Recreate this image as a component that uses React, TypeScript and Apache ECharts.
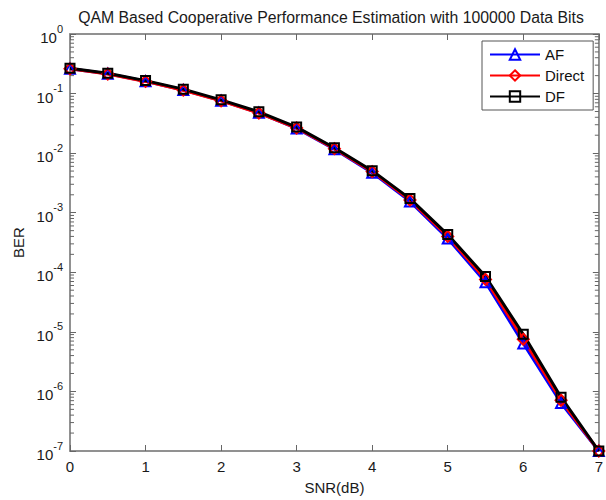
import React, { useEffect, useRef } from "react";
import * as echarts from "echarts";

const snr = [0, 0.5, 1, 1.5, 2, 2.5, 3, 3.5, 4, 4.5, 5, 5.5, 6, 6.5, 7];
const berAF = [0.262, 0.215, 0.161, 0.115, 0.076, 0.0475, 0.026, 0.0116, 0.0047, 0.00155, 3.7e-4, 6.8e-5, 6.4e-6, 6.4e-7, 1e-7];
const berDirect = [0.26, 0.213, 0.16, 0.114, 0.0755, 0.047, 0.0264, 0.0119, 0.0049, 0.00163, 4.0e-4, 7.6e-5, 7.5e-6, 7.1e-7, 1e-7];
const berDF = [0.267, 0.22, 0.165, 0.1186, 0.0785, 0.0494, 0.0274, 0.01233, 0.00508, 0.001725, 4.3e-4, 8.5e-5, 9.1e-6, 8.0e-7, 1e-7];
const seriesNames = ["AF", "Direct", "DF"];
const xTicks = [0, 1, 2, 3, 4, 5, 6, 7];
const decades = [-7, -6, -5, -4, -3, -2, -1, 0];
const minorMultipliers = [2, 3, 4, 5, 6, 7, 8, 9];

const FONT = "Liberation Sans, Arial, sans-serif";
const AXIS = "#8a8a8a";
const TICK = "#666";

export default function App() {
  const ref = useRef<HTMLDivElement>(null);
  useEffect(() => {
    document.body.style.margin = "0";
    const chart = echarts.init(ref.current!, null, { renderer: "svg" });
    const minor: number[][] = [];
    decades.slice(0, -1).forEach((d) => {
      minorMultipliers.forEach((m) => minor.push([0, m * Math.pow(10, d)]));
    });
    const supLabel = (v: number) => {
      const e = Math.round(Math.log10(v));
      return `{b|10}{s|${e}}`;
    };
    const rich = {
      b: { fontSize: 15, fontFamily: FONT, color: "#1a1a1a", verticalAlign: "bottom", lineHeight: 22 },
      s: { fontSize: 11, fontFamily: FONT, color: "#1a1a1a", verticalAlign: "top", lineHeight: 22 },
    };
    const mk = (name: string, data: number[], color: string, symbol: string, size: number) => ({
      name,
      type: "line",
      data: snr.map((x, i) => [x, data[i]]),
      symbol,
      symbolSize: size,
      showAllSymbol: true,
      lineStyle: { color, width: 3 },
      itemStyle: { color: "rgba(255,255,255,0)", borderColor: color, borderWidth: 2 },
      z: 3,
    });
    const axisLine = { show: true, onZero: false, lineStyle: { color: AXIS, width: 1.5 } };
    const axisTick = { show: true, inside: true, length: 6, lineStyle: { color: TICK, width: 1 } };
    chart.setOption({
      animation: false,
      backgroundColor: "#fff",
      title: {
        text: "QAM Based Cooperative Performance Estimation with 100000 Data Bits",
        left: 326,
        textAlign: "center",
        top: 4,
        textStyle: { fontFamily: FONT, fontSize: 15.8, fontWeight: "normal", color: "#1a1a1a" },
      },
      legend: {
        data: seriesNames,
        orient: "vertical",
        left: 482,
        top: 41,
        backgroundColor: "#fff",
        borderColor: "#555",
        borderWidth: 1,
        padding: [6, 9, 6, 7],
        itemGap: 6,
        itemWidth: 50,
        itemHeight: 13,
        textStyle: { fontFamily: FONT, fontSize: 15, color: "#111" },
      },
      grid: { left: 70, right: 5, top: 34, bottom: 48, show: true, borderColor: AXIS, borderWidth: 1.5 },
      xAxis: [
        {
          type: "value",
          min: 0,
          max: 7,
          interval: 1,
          name: "SNR(dB)",
          nameLocation: "middle",
          nameGap: 29,
          nameTextStyle: { fontFamily: FONT, fontSize: 15, color: "#1a1a1a" },
          axisLine,
          axisTick,
          axisLabel: { fontFamily: FONT, fontSize: 15, color: "#1a1a1a", margin: 8, formatter: (v: number) => (xTicks.includes(v) ? String(v) : "") },
          splitLine: { show: false },
        },
        {
          type: "value",
          position: "top",
          min: 0,
          max: 7,
          interval: 1,
          axisLine,
          axisTick,
          axisLabel: { show: false },
          splitLine: { show: false },
        },
      ],
      yAxis: [
        {
          type: "log",
          min: 1e-7,
          max: 1,
          logBase: 10,
          name: "BER",
          nameLocation: "middle",
          nameGap: 41,
          nameTextStyle: { fontFamily: FONT, fontSize: 15, color: "#1a1a1a" },
          axisLine,
          axisTick,
          axisLabel: { formatter: supLabel, rich, margin: 7 },
          splitLine: { show: false },
        },
        {
          type: "log",
          min: 1e-7,
          max: 1,
          logBase: 10,
          position: "right",
          axisLine,
          axisTick,
          axisLabel: { show: false },
          splitLine: { show: false },
        },
      ],
      series: [
        {
          type: "custom",
          name: "minorTicks",
          coordinateSystem: "cartesian2d",
          xAxisIndex: 0,
          yAxisIndex: 0,
          silent: true,
          z: 2,
          data: minor,
          encode: { x: 0, y: 1 },
          renderItem: (params: any, api: any) => {
            const p = api.coord([0, api.value(1)]);
            const cs = params.coordSys;
            const left = cs.x;
            const right = cs.x + cs.width;
            const st = { stroke: TICK, lineWidth: 1 };
            return {
              type: "group",
              children: [
                { type: "line", shape: { x1: left, y1: p[1], x2: left + 4, y2: p[1] }, style: st },
                { type: "line", shape: { x1: right - 4, y1: p[1], x2: right, y2: p[1] }, style: st },
              ],
            };
          },
        },
        mk("AF", berAF, "#0000ff", "triangle", 10),
        mk("Direct", berDirect, "#ff0000", "diamond", 11),
        mk("DF", berDF, "#000000", "rect", 9),
      ],
    });
    return () => chart.dispose();
  }, []);
  return <div ref={ref} style={{ width: 606, height: 500 }} />;
}
